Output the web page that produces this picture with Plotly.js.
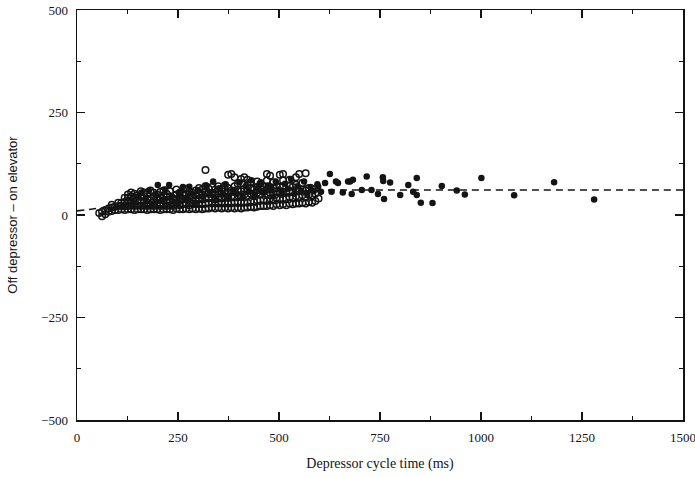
<!DOCTYPE html>
<html>
<head>
<meta charset="utf-8">
<script src="https://cdn.plot.ly/plotly-3.0.1.min.js"></script>
<style>html,body{margin:0;padding:0;background:#fff;}#chart{width:695px;height:477px;}</style>
</head>
<body>
<div id="chart"></div>
<script>
// Open circles: column x positions (ms) and the y values found in each column
const openColX = [55,62,70,78,86,94,102,110,118,126,134,142,150,158,166,174,182,190,198,206,214,222,230,238,246,254,262,270,278,286,294,302,310,318,326,334,342,350,358,366,374,382,390,398,406,414,422,430,438,446,454,462,470,478,486,494,502,510,518,526,534,542,550,558,566,574,582,590,598];
const openColY = [
  [5],[-3,8],[2,12],[8,16],[10,18,25],[12,20],[12,22,30],[14,22,30],[12,22,32,42],[14,22,32,42,50],
  [14,24,34,46,55],[12,22,32,42,52],[14,24,36,48],[14,22,32,44,58],[14,24,34,46,55],[12,22,30,40,52],
  [14,24,36,60],[14,22,32,44,54],[14,26,38,50],[12,22,30,42,56],[14,24,36,48,60],[14,22,32,44,52],
  [14,24,34,46,58],[12,22,30,40],[16,26,38,50,62],[14,24,34,44,54],[14,26,38,48],[16,28,40,52,64],
  [14,24,34,46,58],[16,28,42,54],[14,26,36,48,60],[16,28,40,52,66],[14,26,38,50,62],[16,28,44,56,70,110],
  [16,28,40,52,64],[18,30,42,54,68],[16,28,38,50,62],[18,30,44,56,70],[16,28,40,52,64],[18,30,46,58,72],
  [16,28,42,54,66,98],[18,30,46,60,100],[16,30,44,56,70,92],[18,32,48,62,76],[16,30,44,58,88],
  [18,32,50,64,92],[18,30,46,60,74,86],[20,34,52,66,80],[18,32,48,62],[20,36,54,68,82],[22,36,50,64,76],
  [22,38,56,70],[22,34,50,62,84,100],[24,40,54,68,96],[22,36,52,66,80],[26,42,58,72],[24,38,54,68,98],
  [26,40,56,70,84,100],[24,40,54],[28,44,58,72,86],[26,42,56,68],[28,46,60,74,92],[28,44,58,100],
  [30,48,62,78],[28,44,60,102],[32,50,66],[30,48,64],[34,52],[40]
];
// Filled circles
const filledX = [140,150,160,170,178,185,195,200,210,218,228,235,245,255,262,270,278,285,292,300,310,320,330,337,345,352,360,368,375,387,395,402,410,418,425,432,440,448,455,462,472,478,485,492,500,508,515,522,530,538,546,555,562,570,578,586,595,
  597,604,614,626,630,641,646,658,671,676,680,683,705,717,729,745,757,758,760,775,800,820,832,841,841,851,880,903,940,960,1001,1082,1181,1280];
const filledY = [30,45,55,40,60,25,50,73,35,62,73,45,30,55,68,40,69,52,30,60,45,72,55,82,38,65,50,75,42,61,52,80,45,70,58,85,48,66,80,55,72,69,45,82,62,50,76,64,88,52,70,60,82,50,68,58,75,
  69,57,78,100,57,82,78,55,82,82,51,86,61,94,61,51,92,83,39,79,49,73,57,90,49,30,29,71,60,50,90,48,80,38];
// Fitted curve (dashed)
const fitX = [0,50,100,150,200,250,300,350,400,450,500,550,600,650,700,1500];
const fitY = [10,16,22,28,33,38,42,46,50,53,56,58,60,61,61,61];

const xTicks = [0,250,500,750,1000,1250,1500];
const yTicks = [-500,-250,0,250,500];

const openX = [], openY = [];
openColX.forEach((x,i)=>openColY[i].forEach(y=>{openX.push(x);openY.push(y);}));

const ink = '#141414';
const traces = [
  {x: openX, y: openY, type:'scatter', mode:'markers', name:'open',
   marker:{symbol:'circle-open', size:6.5, color:ink, line:{width:1.5, color:ink}}},
  {x: filledX, y: filledY, type:'scatter', mode:'markers', name:'filled',
   marker:{symbol:'circle', size:6.5, color:ink}},
  {x: fitX, y: fitY, type:'scatter', mode:'lines', name:'fit',
   line:{color:ink, width:1.6, dash:'7px,5px', shape:'spline'}}
];

const serif = 'Liberation Serif, DejaVu Serif, serif';
const tickFont = {family:serif, size:13, color:ink};
const layout = {
  width:695, height:477,
  margin:{l:77, r:12, t:10, b:57},
  paper_bgcolor:'#fff', plot_bgcolor:'#fff',
  showlegend:false,
  xaxis:{range:[0,1500.01], tickvals:xTicks, ticktext:xTicks.map(String),
    ticks:'inside', ticklen:8, tickwidth:1.2, tickcolor:ink,
    minor:{dtick:125, tick0:0, ticks:'inside', ticklen:4, tickcolor:ink, tickwidth:1},
    showline:true, linecolor:ink, linewidth:1.5, mirror:'ticks', showgrid:false, zeroline:false,
    tickfont:tickFont, ticklabelstandoff:5, ticklabeloverflow:'allow',
    title:{text:'Depressor cycle time (ms)', font:{family:serif, size:14, color:ink}, standoff:14}},
  yaxis:{range:[-500,500], tickvals:yTicks, ticktext:['\u2212500','\u2212250','0','250','500'],
    ticks:'inside', ticklen:8, tickwidth:1.2, tickcolor:ink,
    minor:{dtick:125, tick0:0, ticks:'inside', ticklen:4, tickcolor:ink, tickwidth:1},
    showline:true, linecolor:ink, linewidth:1.5, mirror:'ticks', showgrid:false, zeroline:false,
    tickfont:tickFont, ticklabelstandoff:5, ticklabeloverflow:'allow',
    title:{text:'Off depressor \u2013 on elevator', font:{family:'Liberation Sans, Arial, sans-serif', size:13, color:ink}, standoff:20}}
};
Plotly.newPlot('chart', traces, layout, {staticPlot:true, displayModeBar:false});
</script>
</body>
</html>
